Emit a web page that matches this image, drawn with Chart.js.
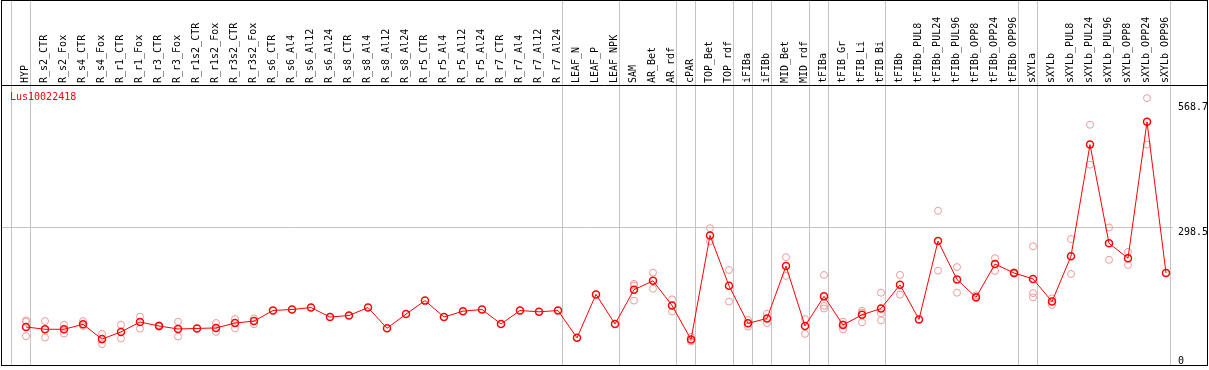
<!DOCTYPE html>
<html>
<head>
<meta charset="utf-8">
<script src="https://cdn.jsdelivr.net/npm/chart.js@4/dist/chart.umd.min.js"></script>
<style>
  html, body { margin: 0; padding: 0; background: #ffffff; }
  #wrap { width: 1209px; height: 370px; }
</style>
</head>
<body>
<div id="wrap"><canvas id="c" width="1209" height="370"></canvas></div>
<script>
const geneLabel = 'Lus10022418';

const categories = [
  'HYP', 'R_s2_CTR', 'R_s2_Fox', 'R_s4_CTR', 'R_s4_Fox', 'R_r1_CTR', 'R_r1_Fox', 'R_r3_CTR', 'R_r3_Fox',
  'R_r1s2_CTR', 'R_r1s2_Fox', 'R_r3s2_CTR', 'R_r3s2_Fox', 'R_s6_CTR', 'R_s6_Al4', 'R_s6_Al12', 'R_s6_Al24',
  'R_s8_CTR', 'R_s8_Al4', 'R_s8_Al12', 'R_s8_Al24', 'R_r5_CTR', 'R_r5_Al4', 'R_r5_Al12', 'R_r5_Al24',
  'R_r7_CTR', 'R_r7_Al4', 'R_r7_Al12', 'R_r7_Al24', 'LEAF_N', 'LEAF_P', 'LEAF_NPK', 'SAM', 'AR_Bet', 'AR_rdf',
  'cPAR', 'TOP_Bet', 'TOP_rdf', 'iFIBa', 'iFIBb', 'MID_Bet', 'MID_rdf', 'tFIBa', 'tFIB_Gr', 'tFIB_Li', 'tFIB_Bi',
  'tFIBb', 'tFIBb_PUL8', 'tFIBb_PUL24', 'tFIBb_PUL96', 'tFIBb_OPP8', 'tFIBb_OPP24', 'tFIBb_OPP96',
  'sXYLa', 'sXYLb', 'sXYLb_PUL8', 'sXYLb_PUL24', 'sXYLb_PUL96', 'sXYLb_OPP8', 'sXYLb_OPP24', 'sXYLb_OPP96'
];

const means = [
  81.2, 76.2, 76.2, 86.9, 54.9, 70.5, 91.9, 83.3, 76.9,
  78.0, 79.1, 89.7, 94.0, 116.8, 119.0, 123.2, 102.6,
  106.1, 123.2, 78.4, 109.0, 138.2, 102.6, 115.4, 119.0,
  87.6, 116.8, 114.0, 116.8, 57.7, 151.7, 87.6, 161.7, 181.0, 127.6,
  54.1, 279.2, 170.3, 89.0, 99.7, 213.0, 83.3, 147.4, 85.5, 107.5, 121.1,
  172.4, 97.6, 267.0, 183.8, 145.3, 217.3, 198.0,
  185.2, 136.1, 234.4, 475.8, 262.2, 230.1, 525.0, 198.0
];

const replicates = [
  [95.5, 92.5, 61.3], [94.0, 58.3], [86.2, 67.0], [94.0, 83.3], [66.2, 44.2], [86.2, 56.3], [103.3, 77.6], [85.0, 82.0], [92.5, 60.5],
  [], [89.7, 70.5], [98.3, 78.4], [99.7, 86.9], [], [], [], [],
  [], [], [], [], [], [], [], [],
  [], [], [], [], [], [], [], [174.6, 171.0, 138.2], [198.7, 163.9], [141.0, 114.7],
  [59.8, 49.8], [294.9, 266.4], [204.5, 136.1], [96.2, 81.9], [109.7, 89.7], [232.2, 191.7], [98.3, 66.2], [193.7, 126.7, 121.1], [92.5, 76.2, 87.0], [116.0, 112.5, 91.2], [155.3, 111.1, 95.5],
  [193.7, 151.0], [], [332.6, 203.0], [210.8, 155.3], [149.6, 143.8], [230.1, 202.3], [199.4, 196.6],
  [255.7, 154.5, 145.3], [143.2, 128.9], [271.4, 195.9], [518.6, 432.3], [296.4, 226.5], [243.6, 215.2], [576.3, 475.8], []
];

const yTickValues = [0, 298.5, 568.7];
const gridValue = 298.5;
const yMax = 604.7;
// index of last category in each group (-1 = left edge line)
const groupEnds = [-1, 0, 28, 31, 34, 35, 37, 38, 39, 41, 42, 45, 52, 53, 60];

const repPoints = [];
replicates.forEach((arr, i) => arr.forEach(v => repPoints.push({ x: categories[i], y: v })));

const FONT = '"DejaVu Sans Mono", "Liberation Mono", monospace';

const decor = {
  id: 'decor',
  beforeDatasetsDraw(chart) {
    const ctx = chart.ctx;
    const xs = chart.scales.x, ys = chart.scales.y;
    const W = chart.width;
    const bottom = Math.round(chart.chartArea.bottom);
    ctx.save();
    ctx.lineWidth = 1;
    ctx.strokeStyle = '#c4c4c4';
    // horizontal grid line
    const gy = Math.round(ys.getPixelForValue(gridValue)) + 0.5;
    ctx.beginPath();
    ctx.moveTo(2, gy);
    ctx.lineTo(Math.round(xs.getPixelForValue(60)) + 7, gy);
    ctx.stroke();
    // vertical group separators
    groupEnds.forEach(i => {
      const px = Math.round(xs.getPixelForValue(i) + 4) + 0.5;
      ctx.beginPath();
      ctx.moveTo(px, 0);
      ctx.lineTo(px, bottom);
      ctx.stroke();
    });
    // frame
    ctx.strokeStyle = '#000000';
    ctx.strokeRect(1.5, 0.5, W - 3, bottom);
    ctx.beginPath();
    ctx.moveTo(1.5, Math.round(chart.chartArea.top) + 0.5);
    ctx.lineTo(W - 1.5, Math.round(chart.chartArea.top) + 0.5);
    ctx.stroke();
    // gene label
    ctx.fillStyle = '#ff0000';
    ctx.font = '10px ' + FONT;
    ctx.textAlign = 'left';
    ctx.textBaseline = 'middle';
    ctx.fillText(geneLabel, 10, 97.5);
    // y tick labels (right side)
    ctx.fillStyle = '#000000';
    ctx.textBaseline = 'top';
    ys.ticks.forEach(t => {
      let py = ys.getPixelForValue(t.value) + 1;
      if (py > bottom - 9) py = bottom - 9;
      ctx.fillText(t.label, 1178, py);
    });
    ctx.restore();
  }
};

new Chart(document.getElementById('c'), {
  type: 'line',
  data: {
    labels: categories,
    datasets: [
      {
        label: 'mean',
        data: means,
        borderColor: '#ff0000',
        borderWidth: 1,
        pointRadius: 3.5,
        pointBorderWidth: 1.5,
        pointBorderColor: '#ff0000',
        pointBackgroundColor: 'rgba(0,0,0,0)',
        tension: 0,
        fill: false
      },
      {
        label: 'replicates',
        data: repPoints,
        showLine: false,
        borderColor: '#ef9a9a',
        pointRadius: 3.5,
        pointBorderWidth: 1,
        pointBorderColor: '#ef9a9a',
        pointBackgroundColor: 'rgba(0,0,0,0)'
      }
    ]
  },
  options: {
    responsive: false,
    animation: false,
    devicePixelRatio: 1,
    layout: { padding: { left: 16.5, right: 0, top: 0, bottom: 2 } },
    plugins: { legend: { display: false }, tooltip: { enabled: false } },
    scales: {
      x: {
        type: 'category',
        position: 'top',
        offset: true,
        grid: { display: false, drawTicks: false },
        border: { display: false },
        ticks: {
          autoSkip: false,
          minRotation: 90,
          maxRotation: 90,
          padding: 2,
          labelOffset: 11,
          color: '#000000',
          font: { family: FONT, size: 10 }
        },
        afterFit(scale) { scale.height = 85; }
      },
      y: {
        position: 'right',
        min: 0,
        max: yMax,
        grid: { display: false, drawTicks: false },
        border: { display: false },
        ticks: { display: false },
        afterBuildTicks(scale) {
          scale.ticks = yTickValues.map(v => ({ value: v, label: String(v) }));
        },
        afterFit(scale) { scale.width = 33.5; }
      }
    }
  },
  plugins: [decor]
});
</script>
</body>
</html>
